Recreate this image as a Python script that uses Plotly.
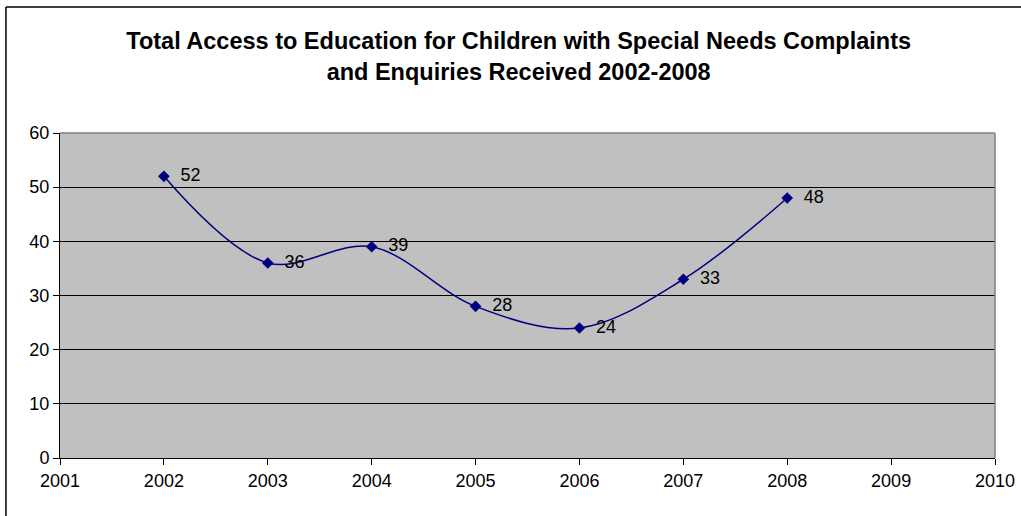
import plotly.graph_objects as go

years = [2002, 2003, 2004, 2005, 2006, 2007, 2008]
values = [52, 36, 39, 28, 24, 33, 48]
labels = [str(v) for v in values]
title_text = "Total Access to Education for Children with Special Needs Complaints<br>and Enquiries Received 2002-2008"

fig = go.Figure()
fig.add_trace(go.Scatter(
    x=years, y=values, mode="lines+markers+text",
    text=labels, texttemplate="  %{text}", textposition="middle right",
    textfont=dict(family="Liberation Sans, Arial", size=18, color="black"),
    line=dict(color="#000080", width=1.5, shape="spline", smoothing=1.0),
    marker=dict(symbol="diamond", size=9, color="#000080"),
    cliponaxis=False, showlegend=False,
))

fig.update_layout(
    width=1021, height=516,
    margin=dict(l=60, r=26, t=133, b=58, autoexpand=False),
    paper_bgcolor="white", plot_bgcolor="#C0C0C0",
    title=dict(text=title_text, x=0.508, xanchor="center", y=0.905, yanchor="middle",
               font=dict(family="Liberation Sans, Arial", size=23.5, color="black", weight="bold")),
    font=dict(family="Liberation Sans, Arial", size=18, color="black"),
)
fig.update_xaxes(range=[2001, 2010], dtick=1, tick0=2001, showgrid=False, zeroline=False,
                 showline=True, linecolor="black", linewidth=1, automargin=False,
                 ticks="outside", ticklen=6, tickcolor="black",
                 tickfont=dict(size=18, color="black"))
fig.update_yaxes(range=[0, 60], dtick=10, showgrid=True, gridcolor="black", gridwidth=1,
                 zeroline=False, showline=True, linecolor="black", linewidth=1, automargin=False,
                 ticks="outside", ticklen=6, tickcolor="black",
                 tickfont=dict(size=18, color="black"))

# plot-area border (top/right gray)
fig.add_shape(type="line", xref="paper", yref="paper", x0=0, x1=1, y0=1, y1=1,
              line=dict(color="#808080", width=1.5))
fig.add_shape(type="line", xref="paper", yref="paper", x0=1, x1=1, y0=0, y1=1,
              line=dict(color="#808080", width=1.5))
# outer chart border (left/top)
fig.add_shape(type="line", xref="paper", yref="paper", x0=-0.0578, x1=1.1, y0=1.388, y1=1.388,
              line=dict(color="black", width=1.5))
fig.add_shape(type="line", xref="paper", yref="paper", x0=-0.0578, x1=-0.0578, y0=-0.3, y1=1.388,
              line=dict(color="black", width=1.5))

fig.write_html("out.html")
